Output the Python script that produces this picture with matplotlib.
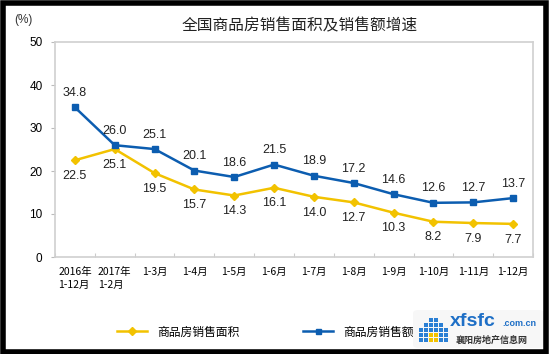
import matplotlib.pyplot as plt
from matplotlib.patches import Rectangle, FancyBboxPatch
import numpy as np

plt.rcParams['font.family'] = ['Liberation Sans', 'Noto Sans CJK SC', 'DejaVu Sans']

categories = ['2016年\n1-12月', '2017年\n1-2月', '1-3月', '1-4月', '1-5月', '1-6月',
              '1-7月', '1-8月', '1-9月', '1-10月', '1-11月', '1-12月']
sales_area = [22.5, 25.1, 19.5, 15.7, 14.3, 16.1, 14.0, 12.7, 10.3, 8.2, 7.9, 7.7]
sales_value = [34.8, 26.0, 25.1, 20.1, 18.6, 21.5, 18.9, 17.2, 14.6, 12.6, 12.7, 13.7]

yellow = '#F2C200'
blue = '#0C5DB0'

fig = plt.figure(figsize=(5.5, 3.54), dpi=100)
ax = fig.add_axes([55 / 550, 1 - 257 / 354, 478 / 550, 215 / 354])

x = np.arange(len(categories))
ax.plot(x, sales_area, color=yellow, lw=1.8, marker='D', ms=4.5, label='商品房销售面积')
ax.plot(x, sales_value, color=blue, lw=1.8, marker='s', ms=4.5, label='商品房销售额')

ax.set_xlim(-0.5, len(categories) - 0.5)
ax.set_ylim(0, 50)
ax.set_yticks(range(0, 51, 10))
ax.tick_params(axis='y', length=3, color='#bbbbbb', labelsize=8.5, pad=6)
ax.set_xticks(np.arange(len(categories) + 1) - 0.5)
ax.set_xticklabels([])
ax.tick_params(axis='x', direction='in', length=3, color='#cccccc')
for sp in ax.spines.values():
    sp.set_color('#d0d0d0')
    sp.set_linewidth(1.2)

for i, c in enumerate(categories):
    ax.text(i, -2.4, c, ha='center', va='top', multialignment='left',
            fontsize=7.5, family=['Noto Sans CJK SC'], linespacing=1.35)

lbl = dict(fontsize=9, ha='center', color='#222222')
for i, v in enumerate(sales_value):
    ax.annotate(f'{v:.1f}', (i, v), xytext=(0, 6), textcoords='offset points',
                va='bottom', **lbl)
for i, v in enumerate(sales_area):
    ax.annotate(f'{v:.1f}', (i, v), xytext=(0, -7), textcoords='offset points',
                va='top', **lbl)

fig.text(300 / 550, 1 - 26 / 354, '全国商品房销售面积及销售额增速', ha='center', va='center',
         fontsize=11.3, family=['Noto Sans CJK SC'], color='#222222')
fig.text(14 / 550, 1 - 20 / 354, '(%)', ha='left', va='center', fontsize=8.5, color='#333333')

leg = fig.legend(loc='center left', bbox_to_anchor=(106 / 550, 1 - 332 / 354), ncol=2,
                 frameon=False, handlelength=2.6, columnspacing=5.4, markerscale=0.8,
                 prop={'family': ['Noto Sans CJK SC'], 'size': 8.5})
leg.set_zorder(3)

# watermark
fig.patches.append(FancyBboxPatch((413 / 550, 6 / 354), 131 / 550, 38 / 354,
                                  boxstyle='round,pad=0,rounding_size=0.01',
                                  transform=fig.transFigure, facecolor='#f7f7f7',
                                  edgecolor='none', zorder=7))
fig.text(450 / 550, 1 - 322 / 354, 'xfsfc', fontsize=14, fontweight='bold', color='#1e6fc6',
         ha='left', va='center', zorder=8)
fig.text(502 / 550, 1 - 324 / 354, '.com.cn', fontsize=6.5, fontweight='bold', color='#1e6fc6',
         ha='left', va='center', zorder=8)
fig.text(492 / 550, 1 - 340 / 354, '襄阳房地产信息网', fontsize=6.5, fontweight='bold',
         color='#333333', ha='center', va='center', family=['Noto Sans CJK SC'], zorder=8)
gx, gy = np.meshgrid(np.arange(6), np.arange(6))
for cx, cy in zip(gx.ravel(), gy.ravel()):
    if cy > 3 - abs(cx - 2.5) + 2:
        continue
    col = '#f2c200' if (cy < 2 and 2 <= cx <= 3) else '#2a7fd4'
    fig.patches.append(Rectangle(((419 + cx * 5) / 550, (12 + cy * 5) / 354), 4 / 550, 4 / 354,
                                 transform=fig.transFigure, facecolor=col, edgecolor='none',
                                 zorder=8))

# black frame
fig.patches.append(Rectangle((2.5 / 550, 2.5 / 354), 1 - 7 / 550, 1 - 5 / 354,
                             transform=fig.transFigure, fill=False, edgecolor='black',
                             lw=4, zorder=10))

fig.savefig('out.png', dpi=100)
